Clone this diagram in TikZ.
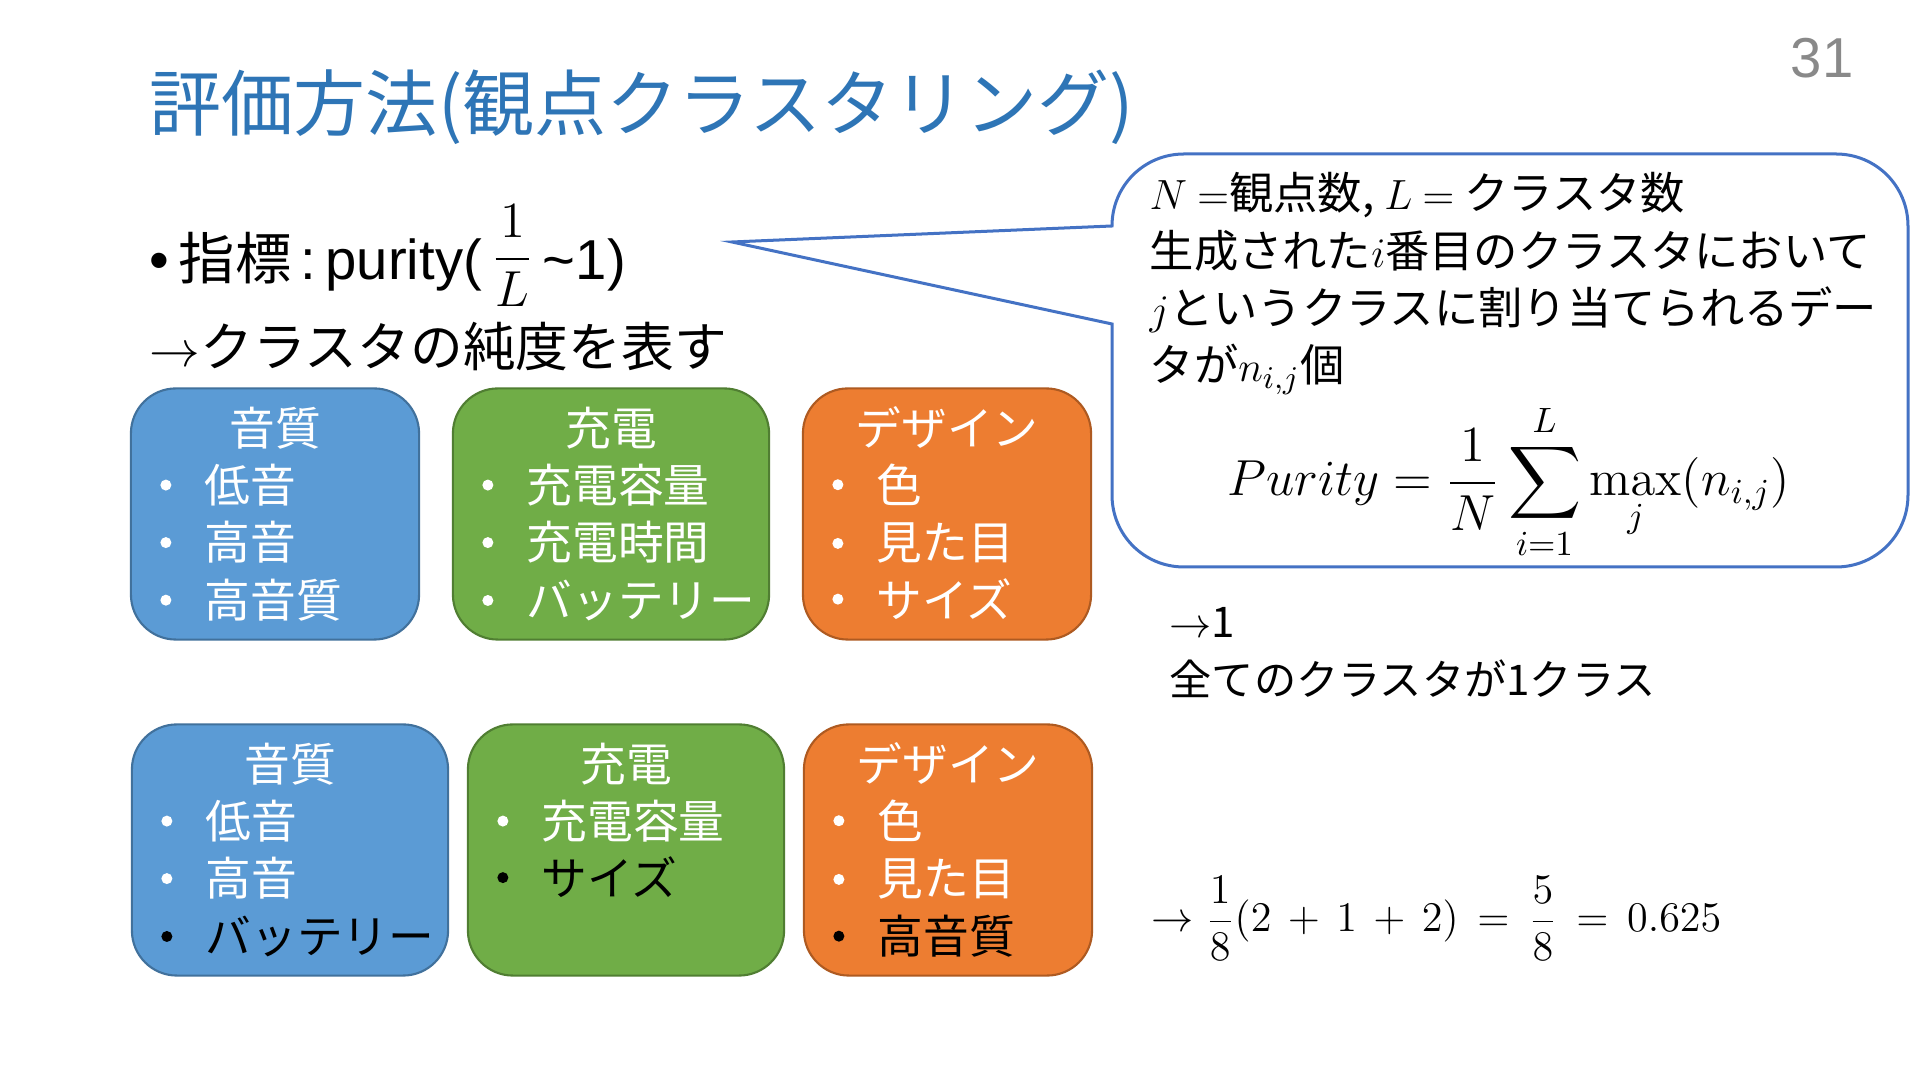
\documentclass[tikz,border=0pt]{standalone}
\usepackage[no-math]{fontspec}
\setmainfont{Noto Sans CJK JP}
\newfontfamily\latinfont{Liberation Sans}
\usepackage{amsmath}
\usepackage{xcolor}
\definecolor{titlecolor}{HTML}{2E75B6}
\definecolor{SQcolor}{HTML}{5B9BD5}
\definecolor{SQline}{HTML}{41719C}
\definecolor{CHcolor}{HTML}{70AD47}
\definecolor{CHline}{HTML}{507E32}
\definecolor{DEcolor}{HTML}{ED7D31}
\definecolor{DEline}{HTML}{AE5A21}
\definecolor{calloutcolor}{HTML}{4472C4}
\definecolor{pagenumcolor}{HTML}{898989}
\usetikzlibrary{math}

\begin{document}
\begin{tikzpicture}[x=0.01cm, y=-0.01cm]

    \tikzset{%
        titlefont/.style={font=\fontsize{20.5pt}{24pt}\selectfont, text=titlecolor, inner sep=0pt, anchor=base west},
        bodyfont/.style={font=\fontsize{15pt}{18pt}\selectfont, inner sep=0pt, anchor=base west},
        boxfont/.style={font=\fontsize{13pt}{15pt}\selectfont, inner sep=0pt},
        notefont/.style={font=\fontsize{12.6pt}{15pt}\selectfont, inner sep=0pt, anchor=base west},
        resultfont/.style={font=\fontsize{12pt}{14pt}\selectfont, inner sep=0pt, anchor=base west},
        aspect/.style={draw=#1line, fill=#1color, line width=0.6pt, rounded corners=0.45cm, minimum height=2.51cm},
        bulletdot/.style={circle, fill=#1, inner sep=0pt, minimum size=0.11cm},
        callout/.style={draw=calloutcolor, fill=white, line width=0.03cm},
    }

    \tikzmath{%
        \firstline=1.15;
        \linegap=0.575;
    }

    \fill [white] (0, 0) rectangle (1920, 1080);
    \useasboundingbox (0, 0) rectangle (1920, 1080);

    % title and page number
    \node [titlefont] (title) at (149, 131) {評価方法(観点クラスタリング)};
    \node [font=\latinfont\fontsize{16pt}{19pt}\selectfont, text=pagenumcolor, inner sep=0pt, anchor=base] (pagenum) at (1822, 78) {31};

    % index
    \node [bodyfont, font=\fontsize{16pt}{19pt}\selectfont] (index) at (149, 280) {{\latinfont •\,}指標{\latinfont \,:\,purity(\,}\raisebox{0.08cm}{\fontsize{14pt}{16pt}\selectfont$\dfrac{1}{L}$}\,{\latinfont \textasciitilde 1)}};
    \node [bodyfont] (meaning) at (149, 367) {$\rightarrow$クラスタの純度を表す};

    % aspect boxes
    \foreach \name/\cx/\cy/\w/\col in {sq1/275/514/2.88/SQ, ch1/611/514/3.16/CH, de1/947/514/2.88/DE, sq2/290/850/3.16/SQ, ch2/626/850/3.16/CH, de2/948/850/2.88/DE} {%
            \node [aspect=\col, minimum width=\w cm] (\name) at (\cx, \cy) {};
        }
    \foreach \name/\head in {sq1/音質, ch1/充電, de1/デザイン, sq2/音質, ch2/充電, de2/デザイン} {%
            \node [boxfont, text=white, anchor=base] (\name-head) at ([yshift=-0.585cm]\name.north) {\head};
        }
    \foreach \name/\k/\txt/\col in {sq1/1/低音/white, sq1/2/高音/white, sq1/3/高音質/white,
            ch1/1/充電容量/white, ch1/2/充電時間/white, ch1/3/バッテリー/white,
            de1/1/色/white, de1/2/見た目/white, de1/3/サイズ/white,
            sq2/1/低音/white, sq2/2/高音/white, sq2/3/バッテリー/black,
            ch2/1/充電容量/white, ch2/2/サイズ/black,
            de2/1/色/white, de2/2/見た目/white, de2/3/高音質/black} {%
            \node [boxfont, text=\col, anchor=base west] (\name-\k) at ([xshift=0.74cm, yshift={-(\firstline+(\k-1)*\linegap)*1cm}]\name.north west) {\txt};
            \node [bulletdot=\col] (\name-\k-dot) at ([xshift=-0.38cm]\name-\k.west) {};
        }

    % callout
    \coordinate (tip) at (732, 242);
    \draw [callout] (tip) -- (1112, 226)
        .. controls (1112, 186) and (1144, 154) .. (1184, 154) -- (1836, 154)
        .. controls (1876, 154) and (1908, 186) .. (1908, 226) -- (1908, 495)
        .. controls (1908, 535) and (1876, 567) .. (1836, 567) -- (1184, 567)
        .. controls (1144, 567) and (1112, 535) .. (1112, 495) -- (1112, 324) -- cycle;
    \node [notefont] (def) at (1149, 210) {$N$ $=$観点数, $L$ $=$ クラスタ数};
    \node [notefont] (gen) at (1149, 268) {生成された$i$番目のクラスタにおいて};
    \node [notefont] (cls) at (1149, 325) {$j$というクラスに割り当てられるデー};
    \node [notefont] (cnt) at (1149, 382) {タが$n_{i,j}$個};
    \node [notefont, font=\fontsize{13.6pt}{16pt}\selectfont, anchor=base] (purity) at (1509, 496) {$\displaystyle Purity=\frac{1}{N}\sum_{i=1}^{L}\max_{j}\!\left(n_{i,j}\right)$};

    % results
    \node [resultfont] (best) at (1169, 638) {$\rightarrow$1};
    \node [resultfont] (bestnote) at (1169, 696) {全てのクラスタが1クラス};
    \node [boxfont, anchor=base west] (example) at (1151, 932) {$\rightarrow \dfrac{1}{8}(2\,+\,1\,+\,2)\,=\,\dfrac{5}{8}\,=\,0.625$};

\end{tikzpicture}
\end{document}
